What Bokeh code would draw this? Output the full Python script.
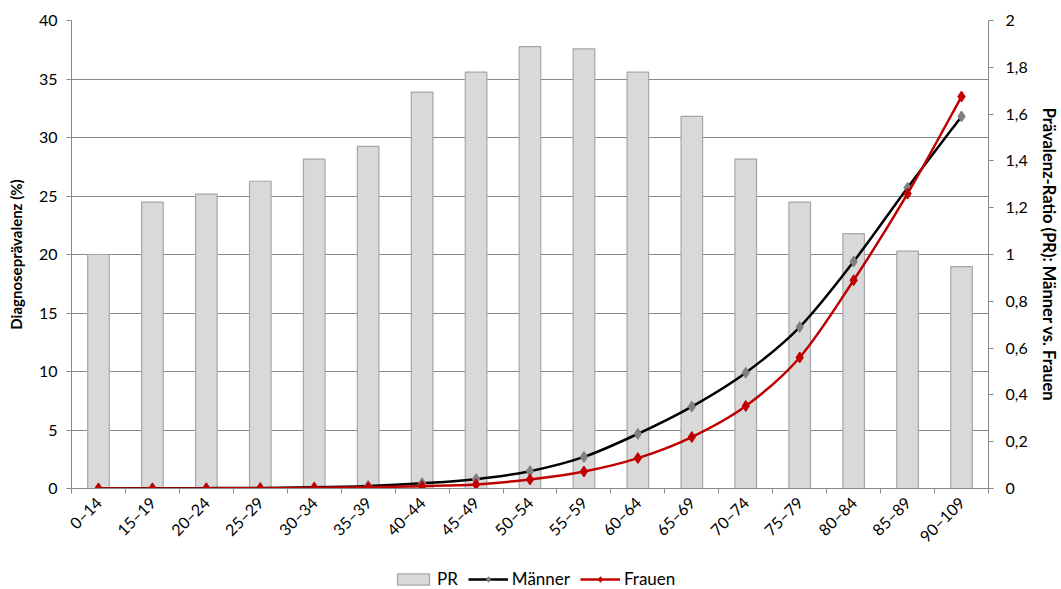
import numpy as np
from math import pi
from bokeh.plotting import figure
from bokeh.layouts import column
from bokeh.models import (Range1d, LinearAxis, FixedTicker, CustomJSTickFormatter,
                          Legend, LegendItem, ColumnDataSource)
from bokeh.embed import file_html
from bokeh.resources import INLINE

categories = ["0–14", "15–19", "20–24", "25–29", "30–34", "35–39", "40–44", "45–49",
              "50–54", "55–59", "60–64", "65–69", "70–74", "75–79", "80–84", "85–89", "90–109"]
pr = [1.0, 1.224, 1.258, 1.313, 1.408, 1.462, 1.694, 1.779, 1.888, 1.879, 1.779,
      1.59, 1.408, 1.224, 1.089, 1.014, 0.948]
maenner = [0.01, 0.02, 0.03, 0.05, 0.1, 0.22, 0.45, 0.8, 1.48, 2.7, 4.67, 7.0,
           9.9, 13.8, 19.4, 25.7, 31.8]
frauen = [0.0, 0.0, 0.01, 0.02, 0.05, 0.1, 0.2, 0.35, 0.77, 1.45, 2.6, 4.4,
          7.05, 11.2, 17.8, 25.2, 33.5]
left_ticks = [0, 5, 10, 15, 20, 25, 30, 35, 40]
right_ticks = [0, 0.2, 0.4, 0.6, 0.8, 1.0, 1.2, 1.4, 1.6, 1.8, 2.0]

FONT = "Lato"
GRAY = "#898989"
BAR_FILL = "#D9D9D9"
BAR_LINE = "#A6A6A6"
M_LINE = "#000000"
M_MARK = "#808080"
F_COL = "#C00000"
TXT = "#000000"

n = len(categories)
xc = [i + 0.5 for i in range(n)]


def smooth_source(xs, ys):
    d = dict(x0=[], y0=[], x1=[], y1=[], cx0=[], cy0=[], cx1=[], cy1=[])
    m = len(xs)
    for i in range(m - 1):
        a = i - 1 if i > 0 else i
        b = i + 2 if i + 2 < m else i + 1
        d["x0"].append(xs[i]); d["y0"].append(ys[i])
        d["x1"].append(xs[i + 1]); d["y1"].append(ys[i + 1])
        d["cx0"].append(xs[i] + (xs[i + 1] - xs[a]) / 6.0)
        d["cy0"].append(ys[i] + (ys[i + 1] - ys[a]) / 6.0)
        d["cx1"].append(xs[i + 1] - (xs[b] - xs[i]) / 6.0)
        d["cy1"].append(ys[i + 1] - (ys[b] - ys[i]) / 6.0)
    return ColumnDataSource(d)


p = figure(width=1061, height=555, x_range=Range1d(0, n), y_range=Range1d(0, 40),
           output_backend="svg", toolbar_location=None,
           min_border_left=71, min_border_right=66, min_border_top=20, min_border_bottom=67)
p.extra_y_ranges = {"pr": Range1d(0, 2)}
p.outline_line_color = None
p.background_fill_color = "white"
p.border_fill_color = "white"
p.xgrid.visible = False
p.ygrid.grid_line_color = GRAY
p.ygrid.grid_line_width = 1
p.ygrid.ticker = FixedTicker(ticks=left_ticks)

# left axis
ya = p.yaxis[0]
ya.ticker = FixedTicker(ticks=left_ticks)
ya.axis_label = "Diagnoseprävalenz (%)"
ya.axis_line_color = GRAY
ya.major_tick_line_color = GRAY
ya.major_tick_out = 5
ya.major_tick_in = 0
ya.minor_tick_line_color = None
ya.major_label_text_font = FONT
ya.major_label_text_font_size = "16px"
ya.major_label_text_color = TXT
ya.major_label_standoff = 9
ya.axis_label_text_font = FONT
ya.axis_label_text_font_style = "bold"
ya.axis_label_text_font_size = "15px"
ya.axis_label_text_color = TXT
ya.axis_label_standoff = 11

# right axis
ra = LinearAxis(y_range_name="pr", ticker=FixedTicker(ticks=right_ticks),
                formatter=CustomJSTickFormatter(code="var s = (Math.round(tick*10)/10).toString(); return s.replace('.', ',');"))
ra.axis_label = "Prävalenz-Ratio (PR): Männer vs. Frauen"
ra.axis_label_orientation = "vertical"
ra.axis_line_color = GRAY
ra.major_tick_line_color = GRAY
ra.major_tick_out = 5
ra.major_tick_in = 0
ra.minor_tick_line_color = None
ra.major_label_text_font = FONT
ra.major_label_text_font_size = "16px"
ra.major_label_text_color = TXT
ra.major_label_standoff = 12
ra.axis_label_text_font = FONT
ra.axis_label_text_font_style = "bold"
ra.axis_label_text_font_size = "16.5px"
ra.axis_label_text_color = TXT
ra.axis_label_standoff = 8
p.add_layout(ra, "right")

# x axis
xa = p.xaxis[0]
xa.ticker = FixedTicker(ticks=xc, minor_ticks=list(range(n + 1)))
xa.major_label_overrides = {float(v): c for v, c in zip(xc, categories)}
xa.axis_line_color = GRAY
xa.major_tick_line_color = None
xa.major_tick_out = 0
xa.major_tick_in = 0
xa.minor_tick_line_color = GRAY
xa.minor_tick_out = 5
xa.minor_tick_in = 0
xa.major_label_orientation = pi / 4
xa.major_label_text_font = FONT
xa.major_label_text_font_size = "16px"
xa.major_label_text_color = TXT
xa.major_label_standoff = 6

p.vbar(x=xc, top=pr, width=0.4, y_range_name="pr",
       fill_color=BAR_FILL, line_color=BAR_LINE, line_width=1.2)

m_src = smooth_source(xc, maenner)
f_src = smooth_source(xc, frauen)
p.bezier(x0="x0", y0="y0", x1="x1", y1="y1", cx0="cx0", cy0="cy0",
         cx1="cx1", cy1="cy1", source=m_src, line_color=M_LINE, line_width=2.5)
p.scatter(x=xc, y=maenner, marker="diamond", size=11, fill_color=M_MARK, line_color=M_MARK)
p.bezier(x0="x0", y0="y0", x1="x1", y1="y1", cx0="cx0", cy0="cy0",
         cx1="cx1", cy1="cy1", source=f_src, line_color=F_COL, line_width=2.5)
p.scatter(x=xc, y=frauen, marker="diamond", size=11, fill_color=F_COL, line_color=F_COL)

# legend strip below the chart (its glyphs use the same series but lie outside its view)
leg = figure(width=1061, height=34, output_backend="svg", toolbar_location=None,
             x_axis_type=None, y_axis_type=None, min_border=0,
             x_range=Range1d(500, 501), y_range=Range1d(500, 501))
leg.outline_line_color = None
leg.background_fill_color = "white"
leg.border_fill_color = "white"
lb = leg.vbar(x=xc, top=pr, width=0.4, fill_color=BAR_FILL, line_color=BAR_LINE, line_width=1.2)
lm1 = leg.line(x=xc, y=maenner, line_color=M_LINE, line_width=2.5)
lm2 = leg.scatter(x=xc, y=maenner, marker="diamond", size=11, fill_color=M_MARK, line_color=M_MARK)
lf1 = leg.line(x=xc, y=frauen, line_color=F_COL, line_width=2.5)
lf2 = leg.scatter(x=xc, y=frauen, marker="diamond", size=11, fill_color=F_COL, line_color=F_COL)

legend = Legend(items=[LegendItem(label="PR", renderers=[lb]),
                       LegendItem(label="Männer", renderers=[lm1, lm2]),
                       LegendItem(label="Frauen", renderers=[lf1, lf2])],
                orientation="horizontal", location=(322, 0),
                border_line_color=None, background_fill_alpha=0,
                padding=0, margin=0, spacing=10, label_standoff=4,
                glyph_width=40, glyph_height=14, label_height=16,
                label_text_font=FONT, label_text_font_size="17px",
                label_text_color=TXT)
leg.add_layout(legend)

open("out.html", "w").write(file_html(column(p, leg, spacing=0), INLINE))
